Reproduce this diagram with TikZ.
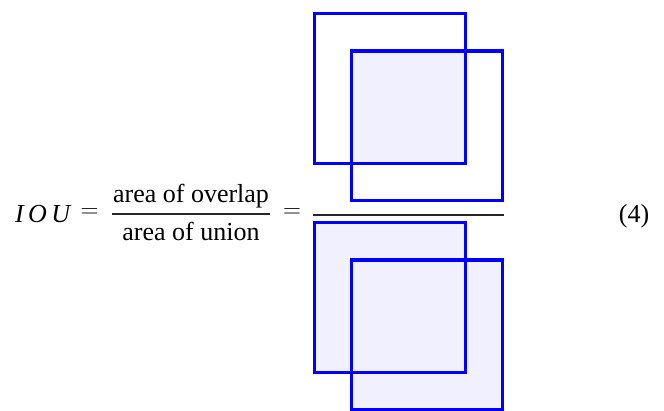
\documentclass[tikz,border=0pt]{standalone}
\usepackage{fontspec}
\setmainfont{Liberation Serif}
\begin{document}
\begin{tikzpicture}[x=1pt,y=-1pt,
  txt/.style={inner sep=0pt,font=\fontsize{26}{31}\selectfont},
  sq/.style={draw=blue,line width=3.3pt,line join=miter},
  bar/.style={line width=1.3pt,black!85}]
\useasboundingbox (0,0) rectangle (664,411);
\definecolor{lightfill}{RGB}{240,240,255}
% left part of the equation
\node[txt,anchor=base west] (iou) at (15,223) {\textit{I\,O\,U}};
\node[txt] (eq1) at (89.5,213) {$=$};
\node[txt,anchor=base] (num) at (191,203) {area of overlap};
\node[txt,anchor=base] (den) at (191,241) {area of union};
\coordinate (b1l) at (112,214);
\coordinate (b1r) at (270,214);
\draw[bar] (b1l) -- (b1r);
\node[txt] (eq2) at (292,213) {$=$};
\node[txt,anchor=base] (eqno) at (634,223) {(4)};
% numerator squares: overlap filled
\coordinate (ta1) at (314.3,13.7);
\coordinate (ta2) at (465.3,163.3);
\coordinate (tb1) at (351.7,51);
\coordinate (tb2) at (502.3,200.7);
\fill[lightfill] (tb1) rectangle (ta2);
\draw[sq] (ta1) rectangle (ta2);
\draw[sq] (tb1) rectangle (tb2);
% fraction bar
\coordinate (b2l) at (312.7,215);
\coordinate (b2r) at (504.3,215);
\draw[bar] (b2l) -- (b2r);
% denominator squares: union filled
\coordinate (ba1) at (314.3,222.3);
\coordinate (ba2) at (465.3,372.3);
\coordinate (bb1) at (351.7,260);
\coordinate (bb2) at (502.3,409.3);
\fill[lightfill] (ba1) rectangle (ba2);
\fill[lightfill] (bb1) rectangle (bb2);
\draw[sq] (ba1) rectangle (ba2);
\draw[sq] (bb1) rectangle (bb2);
\end{tikzpicture}
\end{document}
